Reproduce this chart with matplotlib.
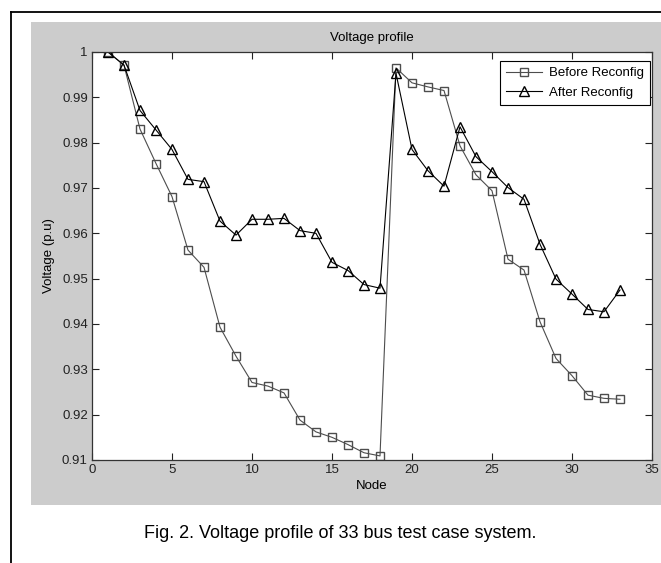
import matplotlib
matplotlib.use("Agg")
import matplotlib.pyplot as plt
from matplotlib.patches import Rectangle
from matplotlib.lines import Line2D

plt.rcParams['font.family'] = ['Liberation Sans', 'DejaVu Sans']

# bus voltages (p.u.)
nodes = list(range(1, 34))
before = [1.0000, 0.9971, 0.9830, 0.9754, 0.9681, 0.9563, 0.9525, 0.9393, 0.9329,
          0.9271, 0.9263, 0.9248, 0.9188, 0.9162, 0.9150, 0.9134, 0.9116, 0.9109,
          0.9965, 0.9932, 0.9923, 0.9915, 0.9793, 0.9729, 0.9694, 0.9543, 0.9519,
          0.9405, 0.9324, 0.9286, 0.9243, 0.9236, 0.9234]
after = [1.0000, 0.9971, 0.9871, 0.9828, 0.9785, 0.9719, 0.9714, 0.9627, 0.9596,
         0.9631, 0.9631, 0.9633, 0.9606, 0.9600, 0.9536, 0.9518, 0.9487, 0.9479,
         0.9953, 0.9785, 0.9738, 0.9704, 0.9835, 0.9769, 0.9736, 0.9701, 0.9675,
         0.9576, 0.9499, 0.9466, 0.9432, 0.9427, 0.9475]
xticks = [0, 5, 10, 15, 20, 25, 30, 35]
yticks = [0.91, 0.92, 0.93, 0.94, 0.95, 0.96, 0.97, 0.98, 0.99, 1.0]
ylabels = ['0.91', '0.92', '0.93', '0.94', '0.95', '0.96', '0.97', '0.98', '0.99', '1']

W, H = 661, 563
fig = plt.figure(figsize=(W / 100, H / 100), dpi=100)
fig.patch.set_facecolor('white')

def fx(px):
    return px / W

def fy(py):
    return 1 - py / H

# outer frame (only left and top visible) and grey matlab figure area
fig.add_artist(Line2D([fx(11), fx(11)], [fy(12), 0], transform=fig.transFigure,
                      color='black', lw=1.3))
fig.add_artist(Line2D([fx(11), 1], [fy(12), fy(12)], transform=fig.transFigure,
                      color='black', lw=1.3))
fig.add_artist(Rectangle((fx(31), fy(505)), 1 - fx(31), fy(22) - fy(505),
                         transform=fig.transFigure, facecolor='#cccccc',
                         edgecolor='none', zorder=0))

ax = fig.add_axes([fx(92), fy(460), fx(652) - fx(92), fy(52) - fy(460)])
ax.set_facecolor('white')

ax.plot(nodes, before, color='#4d4d4d', lw=0.8, marker='s', markersize=6,
        markerfacecolor='none', markeredgecolor='#4d4d4d', markeredgewidth=1.0,
        label='Before Reconfig')
ax.plot(nodes, after, color='black', lw=0.8, marker='^', markersize=7,
        markerfacecolor='none', markeredgecolor='black', markeredgewidth=1.0,
        label='After Reconfig')

ax.set_xlim(0, 35)
ax.set_ylim(0.91, 1.0)
ax.set_xticks(xticks)
ax.set_yticks(yticks)
ax.set_yticklabels(ylabels)
ax.tick_params(direction='in', length=5, width=0.8, top=True, right=True,
               labelsize=9.5, colors='#222222', pad=3)
for s in ax.spines.values():
    s.set_color('#333333')
    s.set_linewidth(0.9)

ax.set_title('Voltage profile', fontsize=9.5, pad=8)
ax.set_xlabel('Node', fontsize=9.5, labelpad=3)
ax.set_ylabel('Voltage (p.u)', fontsize=9.5, labelpad=5)

leg = ax.legend(loc='upper right', bbox_to_anchor=(0.9964, 0.978), borderaxespad=0,
                fancybox=False, edgecolor='black', framealpha=1, fontsize=9.5,
                handlelength=2.8, handletextpad=0.5, borderpad=0.45, labelspacing=0.55)
leg.get_frame().set_linewidth(0.8)

fig.text(fx(340), fy(533), 'Fig. 2. Voltage profile of 33 bus test case system.',
         family=['Liberation Sans', 'DejaVu Sans'], fontsize=13,
         ha='center', va='center')

fig.savefig('out.png', dpi=100)
